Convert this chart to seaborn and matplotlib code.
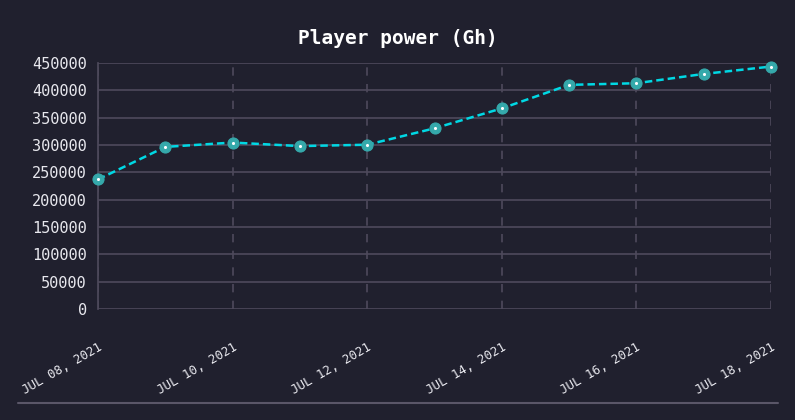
import numpy as np
import pandas as pd
import matplotlib.pyplot as plt
from matplotlib.lines import Line2D
import seaborn as sns

# data
dates = pd.date_range("2021-07-08", "2021-07-18", freq="D")
power = [237000, 296500, 304500, 298000, 300500, 330500, 367000, 410000, 413000, 430000, 443500]
tick_dates = pd.date_range("2021-07-08", "2021-07-18", freq="2D")

BG = "#20202e"
GRID = "#4e4a5c"
TXT = "#e8e8ee"
LINE = "#00d8e4"
MARK = "#35a9ab"

sns.set_theme(style="dark")
plt.rcParams['font.family'] = ['DejaVu Sans Mono', 'DejaVu Sans']

df = pd.DataFrame({"date": dates, "power": power})

fig = plt.figure(figsize=(7.95, 4.2), dpi=100, facecolor=BG)
ax = fig.add_axes([98 / 795, 1 - 309 / 420, (771 - 98) / 795, (309 - 63) / 420])
ax.set_facecolor(BG)

sns.lineplot(data=df, x="date", y="power", ax=ax, color=LINE, linewidth=1.8,
             linestyle=(0, (3, 1.6)), marker="o", markersize=8,
             markerfacecolor=MARK, markeredgecolor=MARK, zorder=3, clip_on=False)
sns.scatterplot(data=df, x="date", y="power", ax=ax, color="white", s=5,
                linewidth=0, zorder=4, clip_on=False)

ax.set_xlim(dates[0], dates[-1])
ax.set_ylim(0, 450000)
ax.set_yticks(np.arange(0, 450001, 50000))
ax.set_xticks(tick_dates)
ax.set_xticklabels([d.strftime("%b %d, %Y").upper() for d in tick_dates])

ax.grid(axis="y", color=GRID, linewidth=1.2, linestyle="-")
ax.grid(axis="x", color=GRID, linewidth=1.2, linestyle=(0, (5, 5)))
for s in ax.spines.values():
    s.set_visible(False)
ax.spines["left"].set_visible(True)
ax.spines["left"].set_color(GRID)

ax.tick_params(axis="x", colors=TXT, labelsize=9, length=8, width=1.2,
               color=GRID, pad=15)
ax.tick_params(axis="y", colors=TXT, labelsize=11, length=6, width=1.2,
               color="#16161f", pad=2)
plt.setp(ax.get_xticklabels(), rotation=30, ha="right", rotation_mode="anchor")
ax.set_xlabel("")
ax.set_ylabel("")

fig.text(0.5, 1 - 38 / 420, "Player power (Gh)", color="white", fontsize=14,
         fontweight="bold", ha="center", va="center")
fig.add_artist(Line2D([18 / 795, 778 / 795], [1 - 403 / 420, 1 - 403 / 420],
                      color="#5a5668", linewidth=1.5))

fig.savefig("out.png", dpi=100, facecolor=BG)
